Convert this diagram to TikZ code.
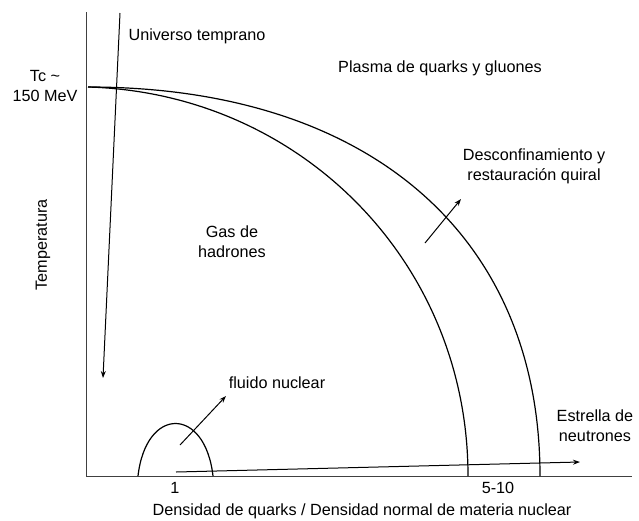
\documentclass[tikz,border=0pt]{standalone}
\usepackage{fontspec}
\setmainfont{Liberation Sans}
\usetikzlibrary{arrows.meta}
\begin{document}
\begin{tikzpicture}[x=1pt,y=-1pt,
  lbl/.style={font=\fontsize{16.2}{20}\selectfont, inner sep=0pt, align=center},
  axisline/.style={line width=0.9pt, draw=black!75},
  curve/.style={line width=1.2pt},
  arr/.style={line width=1pt,-{Stealth[length=7pt,width=5pt]}}]
\useasboundingbox (0,0) rectangle (639,520);
% axes
\coordinate (ytop) at (86,12);
\coordinate (origin) at (86,476);
\coordinate (xend) at (632,476);
\draw[axisline] (ytop) -- (origin) -- (xend);
% phase boundaries
\coordinate (tc) at (88,87);
\coordinate (inb) at (468,476);
\coordinate (outb) at (540,476);
\draw[curve] (tc) .. controls (300,93) and (468,262) .. (inb);
\draw[curve] (tc) .. controls (368,87) and (540,235) .. (outb);
% nuclear fluid arch
\coordinate (fa) at (138,476);
\coordinate (fb) at (213,476);
\draw[curve] (fa) .. controls (146,406) and (205,406) .. (fb);
% arrows
\coordinate (u1) at (120,13);
\coordinate (u2) at (103,378);
\draw[arr] (u1) -- (u2);
\coordinate (n1) at (176,472);
\coordinate (n2) at (580,462);
\draw[arr] (n1) -- (n2);
\coordinate (f1) at (180,445);
\coordinate (f2) at (226,396);
\draw[arr] (f1) -- (f2);
\coordinate (d1) at (425,243);
\coordinate (d2) at (461,199);
\draw[arr] (d1) -- (d2);
% labels
\node[lbl] (univ) at (197,36) {Universo temprano};
\node[lbl] (tclbl) at (45,86) {Tc \textasciitilde\\150 MeV};
\node[lbl] (qgp) at (440,68) {Plasma de quarks y gluones};
\node[lbl] (desc) at (534,166) {Desconfinamiento y\\restauración quiral};
\node[lbl] (gas) at (232,242) {Gas de\\hadrones};
\node[lbl, rotate=90] (temp) at (43,245) {Temperatura};
\node[lbl] (fluid) at (277,383) {fluido nuclear};
\node[lbl] (star) at (595,426) {Estrella de\\neutrones};
\node[lbl] (one) at (175,488) {1};
\node[lbl] (five) at (498,488) {5-10};
\node[lbl] (xlab) at (362,511) {Densidad de quarks / Densidad normal de materia nuclear};
\end{tikzpicture}
\end{document}
